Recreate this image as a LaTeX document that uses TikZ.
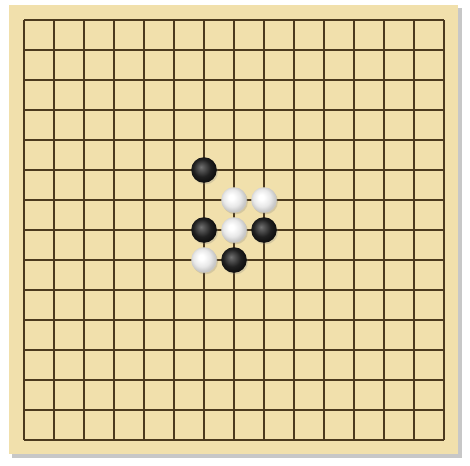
\documentclass[tikz,border=0pt]{standalone}
\usepackage{tikz}
\usetikzlibrary{shadows}

\definecolor{boardwood}{RGB}{241,224,172}
\definecolor{gridbrown}{RGB}{76,58,30}

% stone shadings
\pgfdeclareradialshading{blackball}{\pgfpoint{-6bp}{6bp}}{color(0bp)=(black!55); color(5bp)=(black!65); color(17bp)=(black!87); color(25bp)=(black!93); color(50bp)=(black!93)}
\pgfdeclareradialshading{whiteball}{\pgfpoint{-6bp}{6bp}}{color(0bp)=(white); color(5bp)=(white); color(17bp)=(black!9); color(25bp)=(black!22); color(50bp)=(black!22)}

\begin{document}
\begin{tikzpicture}[
    x=0.5pt, y=-0.5pt,
    board/.style={draw=none, fill=boardwood},
    boardshadow/.style={draw=none, fill=black!22},
    gridline/.style={draw=gridbrown, line width=0.9pt},
    stone/.style={circle, inner sep=0pt, minimum size=12.8pt, drop shadow={opacity=0.25, shadow xshift=0.6pt, shadow yshift=-0.8pt}},
    blackstone/.style={stone, shading=blackball},
    whitestone/.style={stone, shading=whiteball}
]
    \useasboundingbox (0,0) rectangle (470,465);

    % Board with shadow
    \fill[boardshadow] (12,8) rectangle (462,458);
    \fill[board] (9,5) rectangle (458,454);

    % 15x15 grid
    \foreach \i in {0,...,14} {
        \draw[gridline] (24+30*\i, 20) -- (24+30*\i, 440);
        \draw[gridline] (24, 20+30*\i) -- (444, 20+30*\i);
    }

    % Stones
    \node[blackstone] (B1) at (24+30*6, 20+30*5) {};
    \node[whitestone] (W1) at (24+30*7, 20+30*6) {};
    \node[whitestone] (W2) at (24+30*8, 20+30*6) {};
    \node[blackstone] (B2) at (24+30*6, 20+30*7) {};
    \node[whitestone] (W3) at (24+30*7, 20+30*7) {};
    \node[blackstone] (B3) at (24+30*8, 20+30*7) {};
    \node[whitestone] (W4) at (24+30*6, 20+30*8) {};
    \node[blackstone] (B4) at (24+30*7, 20+30*8) {};
\end{tikzpicture}
\end{document}
